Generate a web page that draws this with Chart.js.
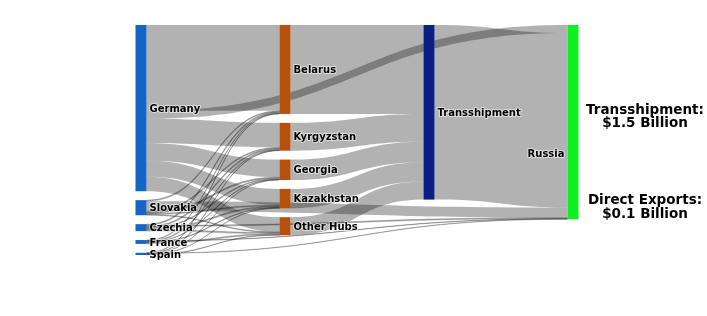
<!DOCTYPE html>
<html>
<head>
<meta charset="utf-8">
<script src="https://cdn.jsdelivr.net/npm/chart.js@4.4.1/dist/chart.umd.min.js"></script>
<style>
  html, body { margin: 0; padding: 0; background: #fff; }
  #wrap { width: 707px; height: 316px; }
</style>
</head>
<body>
<div id="wrap"><canvas id="sankey" width="707" height="316"></canvas></div>
<script>
// exporters (left column) and transit hubs (second column)
const exporters = ["Germany", "Slovakia", "Czechia", "France", "Spain"];
const hubs = ["Belarus", "Kyrgyzstan", "Georgia", "Kazakhstan", "Other Hubs"];

// $ million from each exporter to each hub, same order as hubs
const germanyToHubs = [740, 211, 151, 138, 125];
const slovakiaToHubs = [9, 9, 9, 10, 7];
const czechiaToHubs = [10, 10, 9, 11, 11];
const franceToHubs = [5, 7, 4, 5, 9];
const spainToHubs = [3, 3, 3, 3, 4];

// $ million sent straight to Russia, same order as exporters
const directToRussia = [69, 86, 9, 3, 3];

const noteLines = [
  ["Transshipment:", "$1.5 Billion"],
  ["Direct Exports:", "$0.1 Billion"],
];

const NODE_PAD = 77; // gap between nodes, in $M on the y scale
const NODE_W = 11;
const colColors = ["#1466c6", "#b5500d", "#0b1f82", "#0cf020"];
const linkColor = "rgba(0,0,0,0.3)";

function buildSankey() {
  const names = exporters.concat(hubs, ["Transshipment", "Russia"]);
  const T = names.indexOf("Transshipment");
  const R = names.indexOf("Russia");
  const col = names.map((n, i) =>
    i < exporters.length ? 0 : i < exporters.length + hubs.length ? 1 : i === T ? 2 : 3
  );
  const rows = [germanyToHubs, slovakiaToHubs, czechiaToHubs, franceToHubs, spainToHubs];

  const links = [];
  rows.forEach((row, i) =>
    row.forEach((v, j) => links.push({ s: i, t: exporters.length + j, v: v }))
  );
  directToRussia.forEach((v, i) => links.push({ s: i, t: R, v: v }));
  hubs.forEach((h, j) => {
    const v = rows.reduce((a, row) => a + row[j], 0);
    links.push({ s: exporters.length + j, t: T, v: v });
  });
  const transTotal = links.filter((l) => l.t === T).reduce((a, l) => a + l.v, 0);
  links.push({ s: T, t: R, v: transTotal });

  const nodes = names.map((name, i) => {
    const inV = links.filter((l) => l.t === i).reduce((a, l) => a + l.v, 0);
    const outV = links.filter((l) => l.s === i).reduce((a, l) => a + l.v, 0);
    return { name: name, col: col[i], v: Math.max(inV, outV) };
  });

  const acc = [0, 0, 0, 0];
  nodes.forEach((n) => {
    n.y0 = acc[n.col];
    n.y1 = n.y0 + n.v;
    n.mid = (n.y0 + n.y1) / 2;
    acc[n.col] = n.y1 + NODE_PAD;
  });

  nodes.forEach((n, i) => {
    let y = n.y0;
    links
      .filter((l) => l.s === i)
      .sort((a, b) => nodes[a.t].mid - nodes[b.t].mid)
      .forEach((l) => { l.sy = y; y += l.v; });
    y = n.y0;
    links
      .filter((l) => l.t === i)
      .sort((a, b) => nodes[a.s].mid - nodes[b.s].mid)
      .forEach((l) => { l.ty = y; y += l.v; });
  });

  return { nodes: nodes, links: links, extent: Math.max(...acc) - NODE_PAD };
}

const sankey = buildSankey();

const sankeyPlugin = {
  id: "sankeyDraw",
  afterDraw(chart) {
    const ctx = chart.ctx;
    const xs = chart.scales.x;
    const ys = chart.scales.y;
    const half = NODE_W / 2;

    // links
    ctx.save();
    sankey.links.forEach((l) => {
      const sn = sankey.nodes[l.s];
      const tn = sankey.nodes[l.t];
      const x0 = xs.getPixelForValue(sn.col) + half;
      const x1 = xs.getPixelForValue(tn.col) - half;
      const xm = (x0 + x1) / 2;
      const s0 = ys.getPixelForValue(l.sy);
      const s1 = ys.getPixelForValue(l.sy + l.v);
      const t0 = ys.getPixelForValue(l.ty);
      const t1 = ys.getPixelForValue(l.ty + l.v);
      ctx.beginPath();
      ctx.moveTo(x0, s0);
      ctx.bezierCurveTo(xm, s0, xm, t0, x1, t0);
      ctx.lineTo(x1, t1);
      ctx.bezierCurveTo(xm, t1, xm, s1, x0, s1);
      ctx.closePath();
      ctx.fillStyle = linkColor;
      ctx.fill();
      if (s1 - s0 < 2) {
        ctx.strokeStyle = "rgba(0,0,0,0.35)";
        ctx.lineWidth = 0.6;
        ctx.stroke();
      }
    });

    // nodes
    sankey.nodes.forEach((n) => {
      const xc = xs.getPixelForValue(n.col);
      const top = ys.getPixelForValue(n.y0);
      const bot = ys.getPixelForValue(n.y1);
      ctx.fillStyle = colColors[n.col];
      ctx.fillRect(xc - half, top, NODE_W, Math.max(bot - top, 1));
    });

    // node labels
    ctx.font = "bold 10px 'DejaVu Sans', Verdana, sans-serif";
    ctx.textBaseline = "alphabetic";
    ctx.lineJoin = "round";
    sankey.nodes.forEach((n) => {
      const xc = xs.getPixelForValue(n.col);
      const yc = ys.getPixelForValue(n.mid);
      const last = n.col === 3;
      // the Russia label sits a couple of lines below its node centre
      const lines = last ? ["", "", "", "", n.name] : [n.name];
      const lh = 15.4;
      const x = last ? xc - half - 3 : xc + half + 3;
      ctx.textAlign = last ? "right" : "left";
      lines.forEach((t, k) => {
        if (!t) return;
        const y = yc + (k - (lines.length - 1) / 2) * lh + 3.7;
        ctx.strokeStyle = "rgba(255,255,255,0.55)";
        ctx.lineWidth = 2;
        ctx.strokeText(t, x, y);
        ctx.fillStyle = "#000";
        ctx.fillText(t, x, y);
      });
    });

    // side notes
    const area = chart.chartArea;
    const noteFrac = [0.394, 0.787];
    ctx.font = "bold 13.5px 'DejaVu Sans', Verdana, sans-serif";
    ctx.textAlign = "center";
    ctx.fillStyle = "#000";
    noteLines.forEach((pair, i) => {
      const yc = area.top + noteFrac[i] * (area.bottom - area.top);
      pair.forEach((t, k) => {
        ctx.fillText(t, 645, yc + (k - 0.5) * 13.3 + 4.9);
      });
    });
    ctx.restore();
  },
};

new Chart(document.getElementById("sankey"), {
  type: "scatter",
  data: { datasets: [{ data: [] }] },
  options: {
    responsive: false,
    animation: false,
    events: [],
    layout: { padding: { top: 25, left: 141, right: 134, bottom: 61 } },
    plugins: { legend: { display: false }, tooltip: { enabled: false } },
    scales: {
      x: { type: "linear", min: 0, max: 3, display: false },
      y: { type: "linear", min: 0, max: sankey.extent, reverse: true, display: false },
    },
  },
  plugins: [sankeyPlugin],
});
</script>
</body>
</html>
